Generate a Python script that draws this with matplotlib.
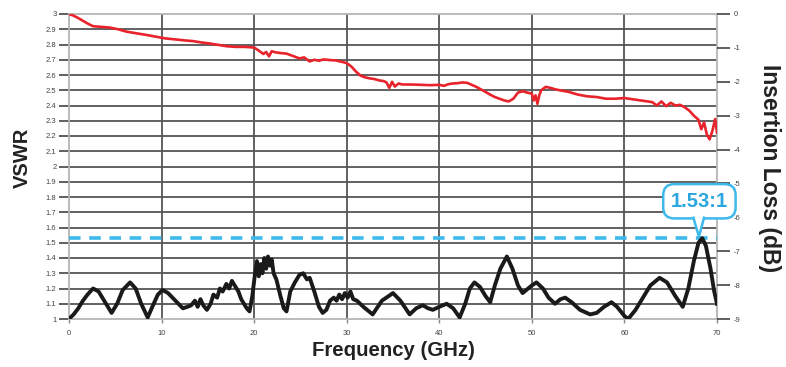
import numpy as np
import matplotlib
matplotlib.use("Agg")
import matplotlib.pyplot as plt
from matplotlib.patches import Polygon

plt.rcParams['font.family'] = ['Liberation Sans', 'DejaVu Sans']

# ---------------- data ----------------
freq_ticks = [0, 10, 20, 30, 40, 50, 60, 70]
vswr_ticks = [1.0, 1.1, 1.2, 1.3, 1.4, 1.5, 1.6, 1.7, 1.8, 1.9, 2.0,
              2.1, 2.2, 2.3, 2.4, 2.5, 2.6, 2.7, 2.8, 2.9, 3.0]
il_ticks = [0, -1, -2, -3, -4, -5, -6, -7, -8, -9]

il_freq = [0, 0.5, 1, 1.5, 2, 2.6, 3.5, 4.4, 5.3, 6.2, 7.3, 8.4, 9.4, 10.4,
           11.5, 12.5, 13.4, 14.3, 15.2, 16.1, 17, 18, 19, 20, 20.5, 21, 21.3,
           21.6, 21.9, 22.3, 22.8, 23.5, 23.9, 24.4, 24.9, 25.4, 26, 26.5, 27,
           27.5, 28.2, 28.8, 29.6, 30, 30.5, 31, 31.5, 32, 32.5, 33, 33.5, 34,
           34.3, 34.6, 34.9, 35.2, 35.6, 36, 37, 38, 39, 40, 40.5, 41, 41.5,
           42, 42.5, 43, 44, 45, 45.5, 46, 46.5, 47, 47.5, 48, 48.5, 49, 49.5,
           50, 50.2, 50.4, 50.6, 50.8, 51, 51.5, 52, 52.5, 53, 54, 55, 56, 57,
           58, 59, 60, 61, 62, 63, 63.5, 64, 64.5, 65, 65.5, 66, 66.5, 67,
           67.5, 68, 68.3, 68.6, 68.9, 69.2, 69.5, 69.8, 70]
il_db = [0, -0.05, -0.12, -0.20, -0.28, -0.36, -0.38, -0.40, -0.45, -0.52,
         -0.57, -0.62, -0.67, -0.72, -0.75, -0.78, -0.80, -0.84, -0.87, -0.91,
         -0.95, -0.97, -0.97, -0.99, -1.08, -1.18, -1.12, -1.25, -1.10, -1.13,
         -1.15, -1.17, -1.21, -1.26, -1.31, -1.28, -1.40, -1.35, -1.38, -1.34,
         -1.36, -1.37, -1.42, -1.45, -1.55, -1.70, -1.82, -1.87, -1.90, -1.92,
         -1.96, -1.98, -2.02, -2.18, -2.00, -2.14, -2.05, -2.08, -2.08, -2.09,
         -2.10, -2.09, -2.12, -2.07, -2.05, -2.04, -2.02, -2.03, -2.15, -2.30,
         -2.38, -2.45, -2.50, -2.55, -2.58, -2.50, -2.32, -2.28, -2.32, -2.35,
         -2.55, -2.40, -2.65, -2.40, -2.25, -2.15, -2.18, -2.22, -2.25, -2.30,
         -2.38, -2.43, -2.45, -2.50, -2.50, -2.48, -2.52, -2.56, -2.60, -2.70,
         -2.58, -2.72, -2.62, -2.70, -2.68, -2.75, -2.85, -3.00, -3.12, -3.40,
         -3.20, -3.55, -3.70, -3.45, -3.10, -3.50]

vswr_freq = [0, 0.5, 1, 1.5, 2, 2.6, 3.2, 3.8, 4.6, 5.2, 5.8, 6.6, 7.2, 7.8,
             8.5, 9.0, 9.6, 10.1, 10.7, 11.5, 12.3, 12.8, 13.2, 13.6, 13.9,
             14.2, 14.5, 14.9, 15.3, 15.6, 16.0, 16.3, 16.6, 17.0, 17.3, 17.6,
             17.9, 18.3, 18.6, 18.9, 19.2, 19.5, 19.8, 20.1, 20.3, 20.5, 20.7,
             20.9, 21.1, 21.3, 21.5, 21.7, 21.9, 22.1, 22.4, 22.8, 23.2, 23.5,
             23.9, 24.4, 24.9, 25.3, 25.7, 26.0, 26.5, 27.0, 27.4, 27.8, 28.2,
             28.6, 28.9, 29.2, 29.5, 29.8, 30.1, 30.4, 30.7, 31.1, 31.8, 32.8,
             33.8, 35.0, 35.8, 36.8, 37.5, 38.2, 38.8, 39.3, 40.0, 40.8, 41.5,
             42.2, 42.8, 43.3, 43.8, 44.4, 45.0, 45.5, 46.0, 46.6, 47.3, 47.9,
             48.5, 49.0, 49.6, 50.0, 50.5, 51.2, 51.8, 52.5, 53.1, 53.6, 54.3,
             55.2, 56.3, 57.0, 57.8, 58.6, 59.2, 60.0, 60.4, 61.2, 62.0, 62.8,
             63.8, 64.6, 65.5, 66.3, 66.9, 67.5, 68.0, 68.4, 68.8, 69.3, 69.7,
             70.0]
vswr = [1.00, 1.03, 1.07, 1.12, 1.16, 1.20, 1.18, 1.12, 1.04, 1.10, 1.19,
        1.24, 1.20, 1.10, 1.01, 1.08, 1.16, 1.19, 1.17, 1.12, 1.07, 1.08,
        1.09, 1.12, 1.08, 1.13, 1.09, 1.06, 1.10, 1.16, 1.14, 1.20, 1.18,
        1.23, 1.20, 1.25, 1.22, 1.18, 1.13, 1.10, 1.07, 1.05, 1.15, 1.30,
        1.38, 1.28, 1.36, 1.30, 1.40, 1.33, 1.41, 1.35, 1.39, 1.30, 1.26,
        1.16, 1.07, 1.05, 1.18, 1.24, 1.29, 1.30, 1.26, 1.27, 1.18, 1.08,
        1.04, 1.06, 1.12, 1.14, 1.12, 1.16, 1.13, 1.17, 1.14, 1.18, 1.13,
        1.12, 1.08, 1.03, 1.12, 1.17, 1.12, 1.03, 1.07, 1.09, 1.07, 1.06,
        1.08, 1.10, 1.07, 1.01, 1.10, 1.20, 1.24, 1.21, 1.15, 1.11, 1.22,
        1.33, 1.41, 1.33, 1.22, 1.17, 1.20, 1.22, 1.24, 1.20, 1.14, 1.10,
        1.13, 1.14, 1.11, 1.06, 1.03, 1.04, 1.08, 1.11, 1.08, 1.02, 1.00,
        1.06, 1.14, 1.22, 1.27, 1.24, 1.15, 1.08, 1.20, 1.38, 1.50, 1.53,
        1.48, 1.33, 1.18, 1.10]

spec_vswr = 1.53
spec_label = "1.53:1"

# ---------------- styling ----------------
W, H = 786, 367
grid_col = '#555555'
spine_col = '#b5b5b5'
cyan = '#3db9ec'
cyan_text = '#2aa6e0'
red = '#e8232b'

fig = plt.figure(figsize=(W / 100, H / 100), dpi=100)
L, R, T, B = 69, 717, 14, 319
ax = fig.add_axes([L / W, 1 - B / H, (R - L) / W, (B - T) / H])
ax.set_xlim(freq_ticks[0], freq_ticks[-1])
ax.set_ylim(vswr_ticks[0], vswr_ticks[-1])

# interior grid lines
for v in vswr_ticks[1:-1]:
    ax.axhline(v, color=grid_col, lw=1.3, zorder=1)
for f in freq_ticks[1:-1]:
    ax.axvline(f, color=grid_col, lw=1.3, zorder=1)

for s in ax.spines.values():
    s.set_color(spine_col)
    s.set_linewidth(1.3)

ax.set_yticks(vswr_ticks)
ax.set_yticklabels([('%g' % v) if abs(v - round(v)) < 1e-9 else '%.1f' % v
                    for v in vswr_ticks])
ax.set_xticks(freq_ticks)
ax.set_xticklabels([str(f) for f in freq_ticks])
ax.tick_params(axis='y', direction='out', length=7, width=1.1, color='#333333',
               labelsize=5.5, labelcolor='#444444', pad=2)
ax.tick_params(axis='x', direction='out', length=3, width=1.0, color='#888888',
               labelsize=5.5, labelcolor='#444444', pad=5)

# spec line
ax.plot([freq_ticks[0], freq_ticks[-1]], [spec_vswr, spec_vswr], color=cyan,
        lw=2.6, dashes=(3.2, 2.4), zorder=3, solid_capstyle='butt')

# VSWR curve
ax.plot(vswr_freq, vswr, color='#1a1a1a', lw=2.8, zorder=4,
        solid_joinstyle='round')

# insertion loss on right axis
ax2 = ax.twinx()
ax2.set_ylim(il_ticks[-1], il_ticks[0])
ax2.set_yticks(il_ticks)
ax2.set_yticklabels([str(t) for t in il_ticks])
for s in ax2.spines.values():
    s.set_visible(False)
ax2.tick_params(axis='y', direction='out', length=9, width=1.1, color='#333333',
                labelsize=5.5, labelcolor='#444444', pad=3)
ax2.plot(il_freq, il_db, color=red, lw=1.9, zorder=5)

# callout
tx, ty = 68.1, 1.772
ax2.text(tx, ty, spec_label, transform=ax.transData, ha='center', va='center',
         fontsize=14.5, fontweight='bold', color=cyan_text, zorder=10,
         clip_on=False,
         bbox=dict(boxstyle='round,pad=0.38,rounding_size=0.55', fc='white',
                   ec=cyan, lw=1.8))
tail = Polygon([(67.45, 1.668), (68.6, 1.668), (68.05, 1.54)], closed=True,
               fc='white', ec='none', transform=ax.transData, zorder=11,
               clip_on=False)
ax2.add_patch(tail)
ax2.plot([67.45, 68.05, 68.6], [1.664, 1.54, 1.664], color=cyan, lw=1.8,
         transform=ax.transData, zorder=12, clip_on=False,
         solid_joinstyle='miter')

# axis labels
fig.text(22 / W, 1 - 158 / H, 'VSWR', rotation=90, ha='center', va='center',
         fontsize=14.5, fontweight='bold', color='#222222')
fig.text(770 / W, 1 - 168 / H, 'Insertion Loss (dB)', rotation=-90,
         ha='center', va='center', fontsize=16.5, fontweight='bold',
         color='#222222')
fig.text(393 / W, 1 - 351 / H, 'Frequency (GHz)', ha='center', va='center',
         fontsize=14.7, fontweight='bold', color='#222222')

fig.savefig('out.png', dpi=100)
